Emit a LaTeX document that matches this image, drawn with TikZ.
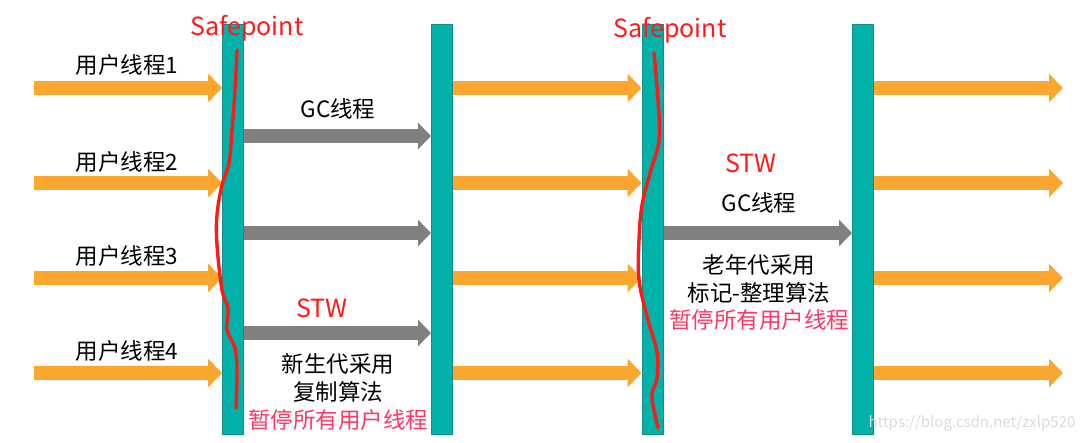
\documentclass[tikz,border=0pt]{standalone}
\usepackage{fontspec}
\setmainfont{Noto Sans CJK SC}
\usetikzlibrary{arrows.meta}
\definecolor{barfill}{RGB}{0,178,169}
\definecolor{barline}{RGB}{22,140,128}
\definecolor{org}{RGB}{251,167,47}
\definecolor{gry}{RGB}{128,128,128}
\definecolor{sred}{RGB}{255,25,25}
\definecolor{pinkred}{RGB}{255,55,100}
\definecolor{wm}{RGB}{218,218,218}
\begin{document}
\begin{tikzpicture}[x=1pt,y=-1pt,
  bar/.style={draw=barline, line width=1pt, fill=barfill, minimum width=21pt, minimum height=410pt, inner sep=0pt},
  oarrow/.style={draw=org, line width=14pt, -{Triangle[length=14pt,width=28pt]}},
  garrow/.style={draw=gry, line width=14pt, -{Triangle[length=13pt,width=26pt]}},
  lbl/.style={font=\fontsize{22.5}{26}\selectfont, inner sep=0pt, text=black},
  redlbl/.style={font=\fontsize{25}{28}\selectfont, inner sep=0pt, text=sred},
  pinklbl/.style={font=\fontsize{22.5}{26}\selectfont, inner sep=0pt, text=pinkred},
  wave/.style={draw=sred, line width=3.4pt, line cap=round, line join=round}]
\useasboundingbox (0,0) rectangle (1081,442);
% bars
\node[bar] (b1) at (233,229.5) {};
\node[bar] (b2) at (442,229.5) {};
\node[bar] (b3) at (652.5,229.5) {};
\node[bar] (b4) at (863,229.5) {};
% row coordinates
\coordinate (r1) at (34,88);
\coordinate (r2) at (34,183);
\coordinate (r3) at (34,278);
\coordinate (r4) at (34,373);
\coordinate (e1) at (1063,88);
\coordinate (e2) at (1063,183);
\coordinate (e3) at (1063,278);
\coordinate (e4) at (1063,373);
\coordinate (g1) at (0,136);
\coordinate (g2) at (0,233);
\coordinate (g3) at (0,333);
% orange arrows
\foreach \i in {1,2,3,4}{
  \draw[oarrow] (r\i) -- (b1.west |- r\i);
  \draw[oarrow] (b2.east |- r\i) -- (b3.west |- r\i);
  \draw[oarrow] (b4.east |- r\i) -- (e\i);
}
% gray arrows
\draw[garrow] (b1.east |- g1) -- (b2.west |- g1);
\draw[garrow] (b1.east |- g2) -- (b2.west |- g2);
\draw[garrow] (b1.east |- g3) -- (b2.west |- g3);
\draw[garrow] (b3.east |- g2) -- (b4.west |- g2);
% red safepoint curves
\draw[wave] plot[smooth, tension=0.6] coordinates {(237,50) (235,90) (232,130) (229,163) (222,185) (217,215) (217,245) (222,290) (228,308) (227,330) (235,348) (237,372) (236,408)};
\draw[wave] plot[smooth, tension=0.6] coordinates {(654,53) (658,100) (659,140) (650,173) (642,205) (639,240) (639,280) (648,320) (657,352) (657,378) (652,394) (654,410) (658,428)};
% labels
\node[lbl] (u1) at (127,65) {用户线程1};
\node[lbl] (u2) at (127,162) {用户线程2};
\node[lbl] (u3) at (127,256) {用户线程3};
\node[lbl] (u4) at (127,351) {用户线程4};
\node[redlbl] (sp1) at (247,28) {Safepoint};
\node[redlbl] (sp2) at (670,30) {Safepoint};
\node[lbl] (gc1) at (338,109) {GC线程};
\node[redlbl] (stw1) at (322,308) {STW};
\node[lbl] (y1) at (338,364) {新生代采用};
\node[lbl] (y2) at (338,392) {复制算法};
\node[pinklbl] (y3) at (338,420) {暂停所有用户线程};
\node[redlbl] (stw2) at (751,163) {STW};
\node[lbl] (gc2) at (759,203) {GC线程};
\node[lbl] (o1) at (759,265) {老年代采用};
\node[lbl] (o2) at (759,293) {标记-整理算法};
\node[pinklbl] (o3) at (759,320) {暂停所有用户线程};
\node[font=\fontsize{15}{18}\selectfont, text=wm, inner sep=0pt] (wmk) at (972,423) {https://blog.csdn.net/zxlp520};
\end{tikzpicture}
\end{document}
